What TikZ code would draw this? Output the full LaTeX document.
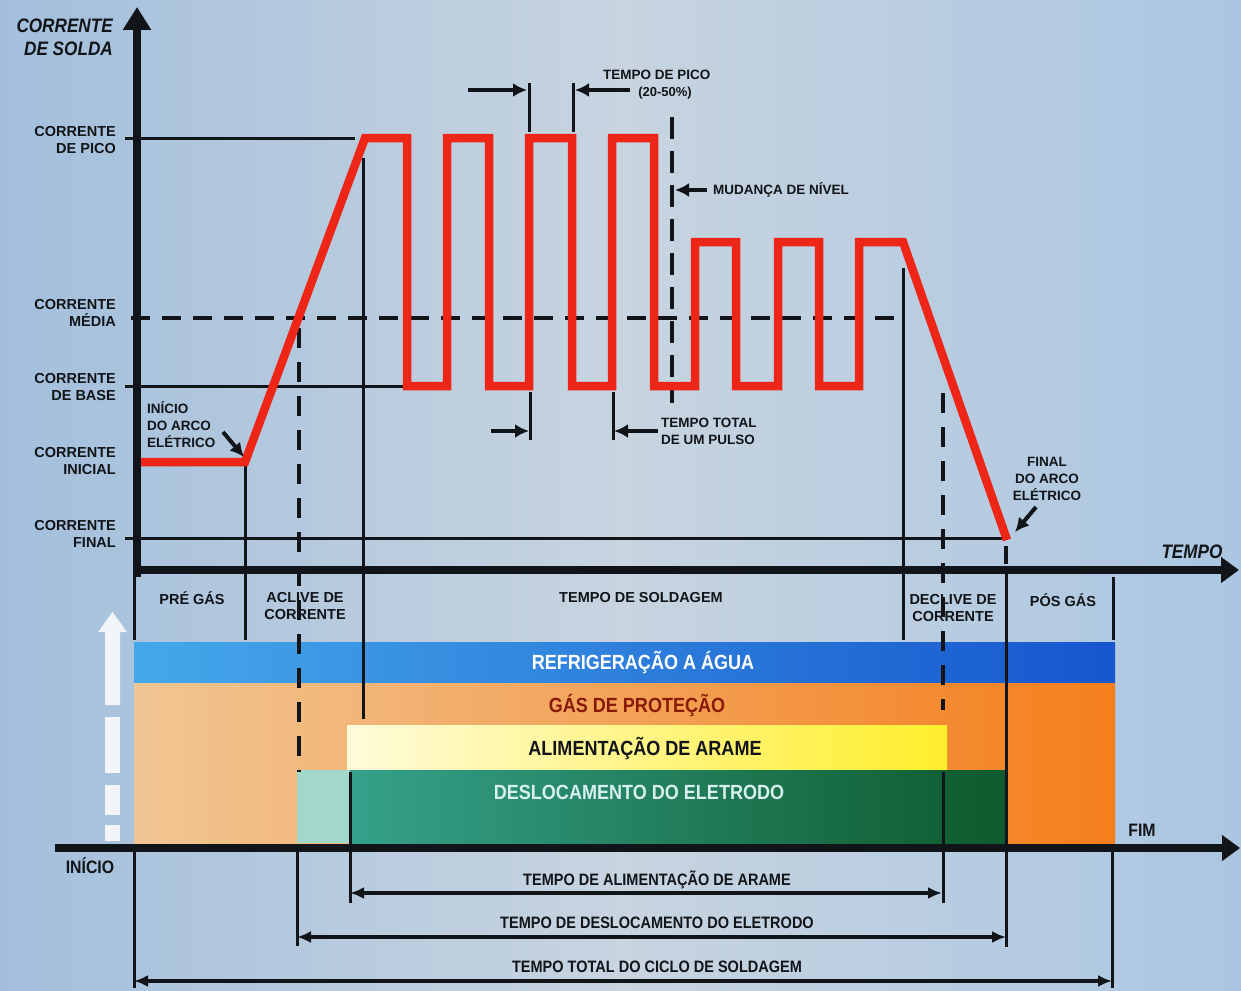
\documentclass[tikz,border=0pt]{standalone}
\usepackage{fontspec}
\setmainfont{Liberation Sans}
\newfontfamily\condf[FakeStretch=0.88]{Liberation Sans}
\usetikzlibrary{arrows.meta}
\definecolor{bgL}{HTML}{A3BFDC}
\definecolor{bgM}{HTML}{C8D4E0}
\definecolor{bgR}{HTML}{ABC6E2}
\definecolor{blueL}{HTML}{45A8EA}
\definecolor{blueR}{HTML}{1656CE}
\definecolor{orL}{HTML}{F1C693}
\definecolor{orM}{HTML}{F29A48}
\definecolor{orR}{HTML}{F57E1C}
\definecolor{yelL}{HTML}{FFFBDA}
\definecolor{yelR}{HTML}{FFEE2C}
\definecolor{grLL}{HTML}{A2D8CC}
\definecolor{grL}{HTML}{35A18A}
\definecolor{grM}{HTML}{1E7F62}
\definecolor{grR}{HTML}{0E5A2C}
\definecolor{redc}{HTML}{EE2618}
\definecolor{ink}{HTML}{111418}
\definecolor{gastxt}{HTML}{8A1A08}
\definecolor{desltxt}{HTML}{D8F0EE}
\tikzset{
  thin line/.style={line width=3pt, draw=ink},
  dash line/.style={line width=3.5pt, draw=ink, dash pattern=on 20pt off 14pt},
  axis line/.style={line width=8pt, draw=ink},
  curve/.style={line width=8.5pt, draw=redc, line join=miter},
  pointer/.style={line width=4pt, draw=ink, -{Latex[length=14pt,width=14pt]}},
  span/.style={line width=4pt, draw=ink, {Latex[length=14pt,width=12pt]}-{Latex[length=14pt,width=12pt]}},
  lbl/.style={inner sep=0pt, text=ink, font=\bfseries\fontsize{14.5}{17}\selectfont},
  small/.style={inner sep=0pt, text=ink, font=\bfseries\fontsize{13.5}{17}\selectfont},
  band/.style={inner sep=0pt, font=\condf\bfseries\fontsize{20.5}{24}\selectfont},
  bottom/.style={inner sep=0pt, text=ink, font=\condf\bfseries\fontsize{16.5}{20}\selectfont},
}
\begin{document}
\begin{tikzpicture}[x=1pt,y=-1pt]
\useasboundingbox (0,0) rectangle (1241,990);
% background
\shade[left color=bgL, right color=bgM] (0,0) rectangle (621,990);
\shade[left color=bgM, right color=bgR] (620,0) rectangle (1241,990);

% bands
\shade[left color=blueL, right color=blueR] (134,642) rectangle (1115,683);
\shade[left color=orL, middle color=orM, right color=orR] (134,683) rectangle (1115,843);
\shade[left color=yelL, right color=yelR] (347,725) rectangle (947,770);
\fill[grLL] (297,770) rectangle (350,843);
\shade[left color=grL, middle color=grM, right color=grR] (350,770) rectangle (1006,843);

% white arrow at left
\fill[white, opacity=0.85] (98,632) -- (112.5,612) -- (127,632) -- (120,632) -- (120,705) -- (105,705) -- (105,632) -- cycle;
\fill[white, opacity=0.85] (105,717) rectangle (120,773);
\fill[white, opacity=0.85] (105,785) rectangle (120,815);
\fill[white, opacity=0.85] (105,825) rectangle (120,841);

% coordinates
\coordinate (pk0) at (125,138);  \coordinate (pk1) at (355,138);
\coordinate (md0) at (125,318);  \coordinate (md1) at (900,318);
\coordinate (bs0) at (125,386);  \coordinate (bs1) at (407,386);
\coordinate (fn0) at (125,538);  \coordinate (fn1) at (1005,538);

% level lines
\draw[thin line] (pk0) -- (pk1);
\draw[line width=3.5pt, draw=ink, dash pattern=on 19pt off 12pt, dash phase=-6pt] (md0) -- (md1);
\draw[thin line] (bs0) -- (bs1);
\draw[thin line] (fn0) -- (fn1);

% vertical marker lines
\draw[thin line] (245,462) -- (245,640);
\draw[dash line] (299,328) -- (299,772);
\draw[thin line] (363,158) -- (363,719);
\draw[thin line] (903,268) -- (903,640);
\draw[dash line] (943,393) -- (943,710);
\draw[line width=3.5pt, draw=ink, dash pattern=on 18pt off 10pt] (1006,546) -- (1006,566);
\draw[thin line] (1006,574) -- (1006,947);
\draw[thin line] (134,577) -- (134,640);
\draw[thin line] (1113,577) -- (1113,640);
\draw[dash line, dash pattern=on 22pt off 12pt] (672,117) -- (672,403);

% lines below bottom axis
\draw[thin line] (134,852) -- (134,988);
\draw[thin line] (1112,852) -- (1112,988);
\draw[thin line] (297,852) -- (297,946);
\draw[thin line] (350,772) -- (350,903);
\draw[thin line] (943,772) -- (943,903);

% pulse markers
\draw[thin line] (529,83) -- (529,132);
\draw[thin line] (573,83) -- (573,132);
\draw[thin line] (530,392) -- (530,440);
\draw[thin line] (613,392) -- (613,440);

% red current curve
\draw[curve] (141,462) -- (245,462) -- (365,138) -- (407,138) -- (407,386) -- (447,386) -- (447,138) -- (489,138) -- (489,386) -- (529,386) -- (529,138) -- (572,138) -- (572,386) -- (612,386) -- (612,138) -- (654,138) -- (654,386) -- (695,386) -- (695,242) -- (736,242) -- (736,386) -- (778,386) -- (778,242) -- (819,242) -- (819,386) -- (859,386) -- (859,242) -- (903,242) -- (1007,540);

% axes
\draw[axis line, -{Triangle[length=23pt,width=27pt]}] (137,577) -- (137,7);
\draw[axis line, -{Triangle[length=18pt,width=25pt]}] (133,570) -- (1239,570);
\draw[axis line, -{Triangle[length=18pt,width=25pt]}] (55,848) -- (1240,848);

% annotation arrows
\coordinate (tp1) at (468,90); \coordinate (tp2) at (527,90);
\coordinate (tp3) at (630,90); \coordinate (tp4) at (575,90);
\draw[pointer] (tp1) -- (tp2);
\draw[pointer] (tp3) -- (tp4);
\coordinate (pu1) at (491,431); \coordinate (pu2) at (529,431);
\coordinate (pu3) at (658,431); \coordinate (pu4) at (614,431);
\draw[pointer] (pu1) -- (pu2);
\draw[pointer] (pu3) -- (pu4);
\coordinate (mn1) at (707,190); \coordinate (mn2) at (675,190);
\draw[pointer] (mn1) -- (mn2);
\coordinate (ia1) at (223,432); \coordinate (ia2) at (244,457);
\draw[pointer] (ia1) -- (ia2);
\coordinate (fa1) at (1036,507); \coordinate (fa2) at (1015,532);
\draw[pointer] (fa1) -- (fa2);

% bottom spans
\coordinate (al1) at (350,893); \coordinate (al2) at (942,893);
\coordinate (de1) at (297,937); \coordinate (de2) at (1006,937);
\coordinate (tt1) at (134,981); \coordinate (tt2) at (1112,981);
\draw[span] (al1) -- (al2);
\draw[span] (de1) -- (de2);
\draw[span] (tt1) -- (tt2);

% axis titles
\node[inner sep=0pt, anchor=east, align=right, text=ink, font=\condf\bfseries\itshape\fontsize{19.5}{23}\selectfont] (ytitle) at (113,37) {CORRENTE\\DE SOLDA};
\node[inner sep=0pt, text=ink, font=\condf\bfseries\itshape\fontsize{19.5}{23}\selectfont] (xtitle) at (1192,552) {TEMPO};

% level labels
\node[lbl, anchor=east, align=right] (lpico) at (116,140) {CORRENTE\\DE PICO};
\node[lbl, anchor=east, align=right] (lmedia) at (116,313) {CORRENTE\\MÉDIA};
\node[lbl, anchor=east, align=right] (lbase) at (116,387) {CORRENTE\\DE BASE};
\node[lbl, anchor=east, align=right] (linicial) at (116,461) {CORRENTE\\INICIAL};
\node[lbl, anchor=east, align=right] (lfinal) at (116,534) {CORRENTE\\FINAL};

% curve annotations
\node[small, anchor=west, align=left] (inicio) at (147,425) {INÍCIO\\DO ARCO\\ELÉTRICO};
\node[small, align=center] (final) at (1047,479) {FINAL\\DO ARCO\\ELÉTRICO};
\node[small, anchor=west] (tpico) at (603,75) {TEMPO DE PICO};
\node[inner sep=0pt, text=ink, font=\bfseries\fontsize{13}{15}\selectfont] (tpct) at (665,93) {(20-50\%)};
\node[small, anchor=west] (mud) at (713,190) {MUDANÇA DE NÍVEL};
\node[small, anchor=west, align=left] (tpulso) at (661,431) {TEMPO TOTAL\\DE UM PULSO};

% phase labels
\node[lbl] (pre) at (192,598) {PRÉ GÁS};
\node[lbl, align=center] (acl) at (305,606) {ACLIVE DE\\CORRENTE};
\node[lbl] (solda) at (641,598) {TEMPO DE SOLDAGEM};
\node[lbl, align=center] (decl) at (953,608) {DECLIVE DE\\CORRENTE};
\node[lbl] (pos) at (1063,600) {PÓS GÁS};

% band labels
\node[band, text=white] (refr) at (643,662) {REFRIGERAÇÃO A ÁGUA};
\node[band, text=gastxt] (gas) at (637,705) {GÁS DE PROTEÇÃO};
\node[band, text=ink] (alim) at (645,748) {ALIMENTAÇÃO DE ARAME};
\node[band, text=desltxt] (desl) at (639,792) {DESLOCAMENTO DO ELETRODO};

% start / end
\node[inner sep=0pt, text=ink, font=\condf\bfseries\fontsize{18}{20}\selectfont] (ini) at (90,866) {INÍCIO};
\node[inner sep=0pt, text=ink, font=\condf\bfseries\fontsize{18}{20}\selectfont] (fim) at (1142,830) {FIM};

% span labels
\node[bottom] (lal) at (657,880) {TEMPO DE ALIMENTAÇÃO DE ARAME};
\node[bottom] (lde) at (657,923) {TEMPO DE DESLOCAMENTO DO ELETRODO};
\node[bottom] (ltt) at (657,967) {TEMPO TOTAL DO CICLO DE SOLDAGEM};
\end{tikzpicture}
\end{document}
